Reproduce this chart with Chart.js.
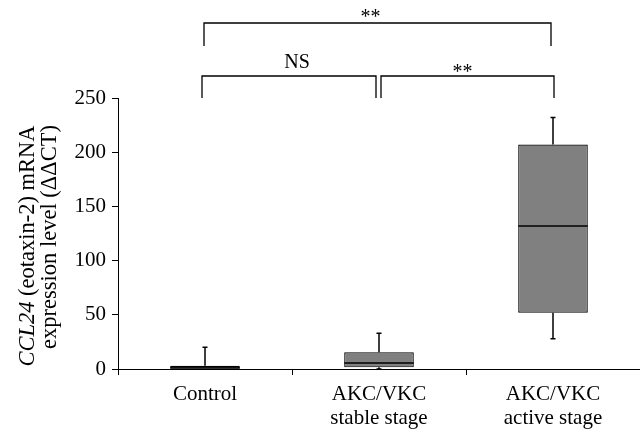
<!DOCTYPE html>
<html>
<head>
<meta charset="utf-8">
<script src="https://cdn.jsdelivr.net/npm/chart.js@4.4.1/dist/chart.umd.min.js"></script>
<style>
    html, body { margin: 0; padding: 0; background: #fff; overflow: hidden; }
</style>
</head>
<body>
<canvas id="chart" width="640" height="434"></canvas>
<script>
(function () {
    'use strict';

    // Valeurs
    const categories = [['Control'], ['AKC/VKC', 'stable stage'], ['AKC/VKC', 'active stage']];
    const whiskerLow = [0, 0, 28];
    const quartile1 = [0, 1.5, 52];
    const medians = [1, 5.5, 132];
    const quartile3 = [3, 15.5, 207];
    const whiskerHigh = [20, 33, 232];
    const yTicks = [0, 50, 100, 150, 200, 250];
    const comparisons = [[0, 2, '**'], [0, 1, 'NS'], [1, 2, '**']];

    const serif = '"Liberation Serif", "Times New Roman", serif';
    const ink = '#000';

    // Placement des accolades, relatif au haut de la zone du graphique
    const bracketLayout = [
        { top: -75, bottom: -52, dx: [-1, -2], textY: -75, textDx: -7 },
        { top: -22, bottom: 0, dx: [-3, -3], textY: -30, textDx: 8 },
        { top: -22, bottom: 0, dx: [2, 1], textY: -20, textDx: -5 }
    ];

    const boxWhiskers = {
        id: 'boxWhiskers',
        afterDatasetsDraw(chart) {
            const { ctx, scales: { x, y } } = chart;
            const bars = chart.getDatasetMeta(0).data;
            ctx.save();
            ctx.strokeStyle = ink;
            ctx.lineWidth = 1.5;
            categories.forEach((_, i) => {
                const cx = x.getPixelForValue(i);
                const half = bars[i].width / 2;
                const yHigh = y.getPixelForValue(whiskerHigh[i]);
                const yLow = y.getPixelForValue(whiskerLow[i]);
                ctx.beginPath();
                ctx.moveTo(cx, y.getPixelForValue(quartile3[i]));
                ctx.lineTo(cx, yHigh);
                ctx.moveTo(cx - 2.5, yHigh);
                ctx.lineTo(cx + 2.5, yHigh);
                if (whiskerLow[i] < quartile1[i]) {
                    ctx.moveTo(cx, y.getPixelForValue(quartile1[i]));
                    ctx.lineTo(cx, yLow);
                    ctx.moveTo(cx - 2.5, yLow);
                    ctx.lineTo(cx + 2.5, yLow);
                }
                const yMed = y.getPixelForValue(medians[i]);
                ctx.moveTo(cx - half, yMed);
                ctx.lineTo(cx + half, yMed);
                ctx.stroke();
            });
            ctx.restore();
        }
    };

    const brackets = {
        id: 'brackets',
        afterDraw(chart) {
            const { ctx, chartArea, scales: { x } } = chart;
            ctx.save();
            ctx.strokeStyle = ink;
            ctx.fillStyle = ink;
            ctx.lineWidth = 1.3;
            ctx.textAlign = 'center';
            ctx.textBaseline = 'alphabetic';
            comparisons.forEach(([a, b, label], k) => {
                const lay = bracketLayout[k];
                const x1 = x.getPixelForValue(a) + lay.dx[0];
                const x2 = x.getPixelForValue(b) + lay.dx[1];
                const yTop = chartArea.top + lay.top;
                const yBot = chartArea.top + lay.bottom;
                ctx.beginPath();
                ctx.moveTo(x1, yBot);
                ctx.lineTo(x1, yTop);
                ctx.lineTo(x2, yTop);
                ctx.lineTo(x2, yBot);
                ctx.stroke();
                ctx.font = '20px ' + serif;
                ctx.fillText(label, (x1 + x2) / 2 + lay.textDx, chartArea.top + lay.textY);
            });
            ctx.restore();
        }
    };

    const yTitle = {
        id: 'yTitle',
        afterDraw(chart) {
            const { ctx } = chart;
            const italic = 'italic 22.5px ' + serif;
            const upright = '22.5px ' + serif;
            ctx.save();
            ctx.fillStyle = ink;
            ctx.textBaseline = 'middle';

            ctx.translate(28, 246);
            ctx.rotate(-Math.PI / 2);
            ctx.font = italic;
            const wItalic = ctx.measureText('CCL24').width;
            ctx.font = upright;
            const rest = ' (eotaxin-2) mRNA';
            const wRest = ctx.measureText(rest).width;
            const start = -(wItalic + wRest) / 2;
            ctx.textAlign = 'left';
            ctx.font = italic;
            ctx.fillText('CCL24', start, 0);
            ctx.font = upright;
            ctx.fillText(rest, start + wItalic, 0);
            ctx.restore();

            ctx.save();
            ctx.fillStyle = ink;
            ctx.textBaseline = 'middle';
            ctx.textAlign = 'center';
            ctx.font = upright;
            ctx.translate(50, 237);
            ctx.rotate(-Math.PI / 2);
            ctx.fillText('expression level (ΔΔCT)', 0, 0);
            ctx.restore();
        }
    };

    const tickFont = { family: serif, size: 21, lineHeight: 1.15 };

    new Chart(document.getElementById('chart'), {
        type: 'bar',
        data: {
            labels: categories,
            datasets: [{
                data: categories.map((_, i) => [quartile1[i], quartile3[i]]),
                backgroundColor: '#808080',
                borderColor: ink,
                borderWidth: 1.2,
                borderSkipped: false,
                barPercentage: 0.4,
                categoryPercentage: 1
            }]
        },
        options: {
            responsive: false,
            animation: false,
            layout: { padding: { top: 98, left: 0, right: 0, bottom: 0 } },
            plugins: {
                legend: { display: false },
                tooltip: { enabled: false }
            },
            scales: {
                x: {
                    grid: { offset: true, drawOnChartArea: false, tickLength: 6, color: ink },
                    border: { color: ink, width: 1 },
                    ticks: { color: ink, font: tickFont, padding: 7, maxRotation: 0, autoSkip: false },
                    afterFit(scale) { scale.height = 65; }
                },
                y: {
                    min: 0,
                    max: 250,
                    grid: { drawOnChartArea: false, tickLength: 6, color: ink },
                    border: { color: ink, width: 1 },
                    ticks: { color: ink, font: tickFont, padding: 6 },
                    afterBuildTicks(scale) { scale.ticks = yTicks.map(v => ({ value: v })); },
                    afterFit(scale) { scale.width = 118; }
                }
            }
        },
        plugins: [boxWhiskers, brackets, yTitle]
    });
})();
</script>
</body>
</html>
